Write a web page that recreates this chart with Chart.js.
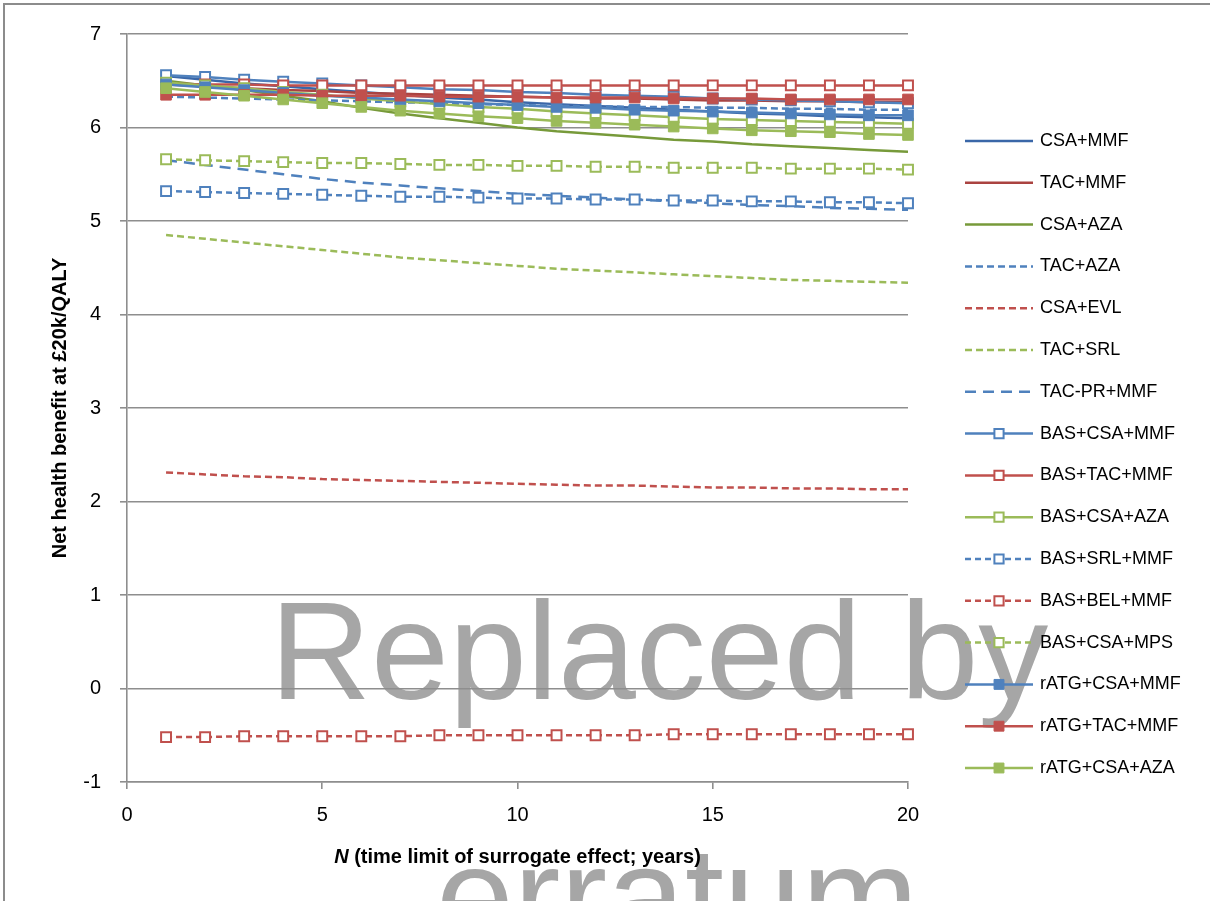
<!DOCTYPE html>
<html><head><meta charset="utf-8">
<script src="https://cdn.jsdelivr.net/npm/chart.js@4/dist/chart.umd.min.js"></script>
<style>
html,body{margin:0;padding:0;background:#fff;width:1210px;height:901px;overflow:hidden;}
#wrap{position:relative;width:1210px;height:901px;}
.wm{position:absolute;font-family:'Liberation Sans',Arial,sans-serif;font-size:140px;line-height:140px;color:#a6a6a6;white-space:nowrap;z-index:0;}
#frame{position:absolute;left:3px;top:3px;width:1300px;height:1000px;border:2px solid #8c8c8c;z-index:2;pointer-events:none;}
canvas{position:absolute;left:0;top:0;z-index:1;}
</style></head>
<body>
<div id="wrap">
  <div class="wm" style="left:270px;top:581px;">Replaced by</div>
  <div class="wm" style="left:436px;top:826px;">erratum</div>
  <canvas id="c" width="1210" height="901"></canvas>
  <div id="frame"></div>
</div>
<script>
// ---- data ----
const years = [1,2,3,4,5,6,7,8,9,10,11,12,13,14,15,16,17,18,19,20];
const CSA_MMF      = [6.55,6.51,6.47,6.44,6.41,6.38,6.35,6.32,6.30,6.27,6.25,6.23,6.21,6.19,6.17,6.15,6.14,6.12,6.11,6.10];
const TAC_MMF      = [6.46,6.44,6.42,6.40,6.39,6.37,6.36,6.35,6.34,6.33,6.32,6.31,6.31,6.30,6.29,6.29,6.28,6.28,6.27,6.27];
const CSA_AZA      = [6.50,6.45,6.40,6.34,6.28,6.21,6.15,6.10,6.05,6.00,5.96,5.93,5.90,5.87,5.85,5.82,5.80,5.78,5.76,5.74];
const TAC_AZA      = [6.33,6.32,6.31,6.30,6.29,6.28,6.27,6.26,6.25,6.24,6.23,6.23,6.22,6.22,6.21,6.21,6.20,6.20,6.19,6.19];
const CSA_EVL      = [2.31,2.29,2.27,2.26,2.24,2.23,2.22,2.21,2.20,2.19,2.18,2.17,2.17,2.16,2.15,2.15,2.14,2.14,2.13,2.13];
const TAC_SRL      = [4.85,4.81,4.77,4.73,4.69,4.65,4.61,4.58,4.55,4.52,4.49,4.47,4.45,4.43,4.41,4.39,4.37,4.36,4.35,4.34];
const TACPR_MMF    = [5.65,5.60,5.55,5.50,5.45,5.41,5.38,5.35,5.32,5.29,5.27,5.25,5.23,5.21,5.19,5.17,5.16,5.14,5.13,5.12];
const BAS_CSA_MMF  = [6.56,6.54,6.51,6.49,6.47,6.45,6.43,6.41,6.40,6.38,6.37,6.35,6.34,6.33,6.31,6.30,6.29,6.28,6.27,6.26];
const BAS_TAC_MMF  = [6.47,6.46,6.46,6.45,6.45,6.45,6.45,6.45,6.45,6.45,6.45,6.45,6.45,6.45,6.45,6.45,6.45,6.45,6.45,6.45];
const BAS_CSA_AZA  = [6.48,6.45,6.42,6.38,6.35,6.31,6.28,6.25,6.22,6.20,6.17,6.15,6.13,6.11,6.09,6.08,6.07,6.06,6.05,6.04];
const BAS_SRL_MMF  = [5.32,5.31,5.30,5.29,5.28,5.27,5.26,5.26,5.25,5.24,5.24,5.23,5.23,5.22,5.22,5.21,5.21,5.20,5.20,5.19];
const BAS_BEL_MMF  = [-0.52,-0.52,-0.51,-0.51,-0.51,-0.51,-0.51,-0.50,-0.50,-0.50,-0.50,-0.50,-0.50,-0.49,-0.49,-0.49,-0.49,-0.49,-0.49,-0.49];
const BAS_CSA_MPS  = [5.66,5.65,5.64,5.63,5.62,5.62,5.61,5.60,5.60,5.59,5.59,5.58,5.58,5.57,5.57,5.57,5.56,5.56,5.56,5.55];
const RATG_CSA_MMF = [6.46,6.43,6.40,6.37,6.34,6.32,6.30,6.28,6.26,6.24,6.22,6.21,6.19,6.18,6.17,6.16,6.15,6.14,6.13,6.13];
const RATG_TAC_MMF = [6.35,6.35,6.35,6.35,6.34,6.34,6.34,6.33,6.33,6.33,6.32,6.32,6.32,6.31,6.31,6.31,6.30,6.30,6.30,6.30];
const RATG_CSA_AZA = [6.42,6.38,6.34,6.30,6.26,6.22,6.18,6.15,6.12,6.10,6.07,6.05,6.03,6.01,5.99,5.97,5.96,5.95,5.93,5.92];
const yTicks = [-1,0,1,2,3,4,5,6,7];
const xTicks = [0,5,10,15,20];
const xTitleItalic = 'N';
const xTitleRest = ' (time limit of surrogate effect; years)';
const yTitle = 'Net health benefit at £20k/QALY';

// ---- styles ----
const BLUE='#4F81BD', RED='#C0504D', GREEN='#9BBB59';
const DBLUE='#3A67A8', DRED='#AA4340', DGREEN='#779A3A';
const SHORT=[7,4], LONG=[11,7], MDASH=[6,4];

function ds(label, data, color, dash, marker){
  const o = {label, data: data.map((v,i)=>({x:years[i], y:v})), borderColor:color, backgroundColor:color,
    borderWidth:2.5, borderDash:dash||[], tension:0, fill:false, clip:10,
    pointStyle:'rect', pointRadius:0, pointHoverRadius:0, pointBorderWidth:0,
    pointBackgroundColor:color, pointBorderColor:color};
  if (marker==='hollow'){ o.pointRadius=7; o.pointBorderWidth=2; o.pointBackgroundColor='#ffffff'; }
  if (marker==='filled'){ o.pointRadius=7.5; o.pointBorderWidth=1; }
  return o;
}
const datasets = [
  ds('CSA+MMF', CSA_MMF, DBLUE),
  ds('TAC+MMF', TAC_MMF, DRED),
  ds('CSA+AZA', CSA_AZA, DGREEN),
  ds('TAC+AZA', TAC_AZA, BLUE, SHORT),
  ds('CSA+EVL', CSA_EVL, RED, SHORT),
  ds('TAC+SRL', TAC_SRL, GREEN, SHORT),
  ds('TAC-PR+MMF', TACPR_MMF, BLUE, LONG),
  ds('BAS+CSA+MMF', BAS_CSA_MMF, BLUE, null, 'hollow'),
  ds('BAS+TAC+MMF', BAS_TAC_MMF, RED, null, 'hollow'),
  ds('BAS+CSA+AZA', BAS_CSA_AZA, GREEN, null, 'hollow'),
  ds('BAS+SRL+MMF', BAS_SRL_MMF, BLUE, MDASH, 'hollow'),
  ds('BAS+BEL+MMF', BAS_BEL_MMF, RED, MDASH, 'hollow'),
  ds('BAS+CSA+MPS', BAS_CSA_MPS, GREEN, MDASH, 'hollow'),
  ds('rATG+CSA+MMF', RATG_CSA_MMF, BLUE, null, 'filled'),
  ds('rATG+TAC+MMF', RATG_TAC_MMF, RED, null, 'filled'),
  ds('rATG+CSA+AZA', RATG_CSA_AZA, GREEN, null, 'filled'),
];
datasets.forEach((d,i)=>{ d.order = datasets.length - i; });

const FONT = "'Liberation Sans', Arial, sans-serif";
const GRID = '#8e8e8e';

const extrasPlugin = {
  id:'extras',
  afterDraw(chart){
    const ctx = chart.ctx;
    // legend
    chart.data.datasets.forEach((d,i)=>{
      const y = 141 + i*41.8;
      ctx.save();
      ctx.strokeStyle = d.borderColor; ctx.lineWidth = d.borderWidth;
      ctx.setLineDash(d.borderDash||[]);
      ctx.beginPath(); ctx.moveTo(965,y); ctx.lineTo(1033,y); ctx.stroke();
      ctx.setLineDash([]);
      if (d.pointRadius>0){
        ctx.fillStyle = d.pointBackgroundColor; ctx.strokeStyle = d.pointBorderColor;
        ctx.lineWidth = d.pointBorderWidth;
        Chart.helpers.drawPoint(ctx,{pointStyle:'rect',radius:d.pointRadius-0.5,borderWidth:d.pointBorderWidth,rotation:0},999,y);
      }
      ctx.fillStyle='#000'; ctx.font='18px '+FONT; ctx.textBaseline='middle'; ctx.textAlign='left';
      ctx.fillText(d.label,1040,y);
      ctx.restore();
    });
    // x axis title with italic N
    const ca = chart.chartArea;
    ctx.save();
    ctx.fillStyle='#000'; ctx.textBaseline='middle'; ctx.textAlign='left';
    const f1 = 'italic bold 20px '+FONT, f2 = 'bold 20px '+FONT;
    ctx.font=f1; const w1 = ctx.measureText(xTitleItalic).width;
    ctx.font=f2; const w2 = ctx.measureText(xTitleRest).width;
    let x0 = (ca.left+ca.right)/2 - (w1+w2)/2;
    ctx.font=f1; ctx.fillText(xTitleItalic, x0, 857);
    ctx.font=f2; ctx.fillText(xTitleRest, x0+w1, 857);
    ctx.restore();
  }
};

new Chart(document.getElementById('c'), {
  type:'line',
  data:{datasets},
  options:{
    responsive:false, animation:false, devicePixelRatio:1,
    layout:{padding:{top:34,right:302,left:0,bottom:0}},
    plugins:{legend:{display:false}, tooltip:{enabled:false}},
    scales:{
      x:{type:'linear', min:0, max:20,
        afterFit(s){ s.height = 119; },
        afterBuildTicks(s){ s.ticks = xTicks.map(v=>({value:v})); },
        ticks:{font:{family:FONT,size:20}, color:'#000', padding:14, maxRotation:0},
        grid:{drawOnChartArea:false, drawTicks:true, tickLength:7, color:GRID, lineWidth:1.6},
        border:{display:true, color:GRID, width:1.6}
      },
      y:{type:'linear', min:-1, max:7,
        afterFit(s){ s.width = 127; },
        afterBuildTicks(s){ s.ticks = yTicks.map(v=>({value:v})); },
        ticks:{font:{family:FONT,size:20}, color:'#000', padding:19},
        grid:{drawTicks:true, tickLength:7, color:GRID, lineWidth:1.6},
        border:{display:true, color:GRID, width:1.6},
        title:{display:true, text:yTitle, font:{family:FONT,size:20,weight:'bold'}, color:'#000', padding:{top:48,bottom:0}}
      }
    }
  },
  plugins:[extrasPlugin]
});
</script>
</body></html>
